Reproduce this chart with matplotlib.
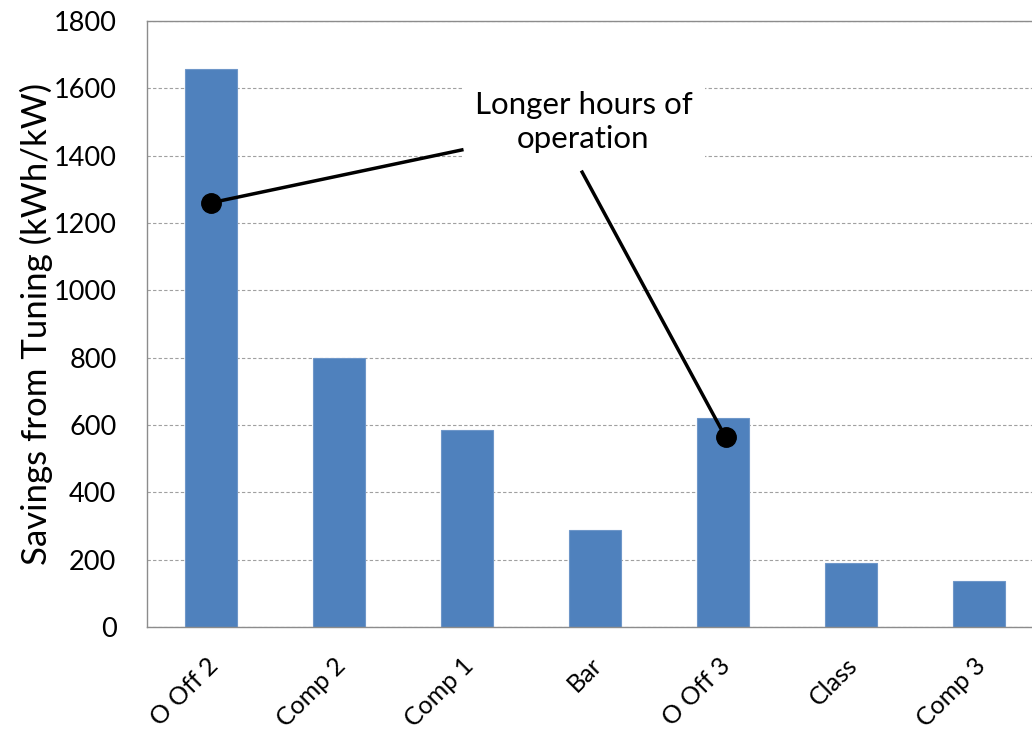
import matplotlib.pyplot as plt
from matplotlib.transforms import ScaledTranslation

plt.rcParams['font.family'] = ['Lato', 'DejaVu Sans']

categories = ['O Off 2', 'Comp 2', 'Comp 1', 'Bar', 'O Off 3', 'Class', 'Comp 3']
savings = [1658, 800, 585, 287, 622, 191, 136]

note_text = 'Longer hours of\noperation'
note_pos = (2.91, 1500)
note_starts = [(1.96, 1417), (2.9, 1351)]
note_dots = [(0.0, 1260), (4.02, 564)]

fig = plt.figure(figsize=(10.32, 7.36), dpi=100)
ax = fig.add_axes([0.1424, 0.1481, 0.8682, 0.8234])

x = range(len(categories))
ax.bar(x, savings, width=0.4, color='#4F81BD', edgecolor='#6F97C9', linewidth=0.8, zorder=2)

ax.set_xlim(-0.5, len(categories) - 0.5)
ax.set_ylim(0, 1800)
ax.set_yticks(range(0, 1801, 200))
ax.yaxis.grid(True, linestyle=(0, (3, 2)), color='#A0A0A0', linewidth=0.8, zorder=0)
ax.tick_params(axis='both', length=0, colors='black')
ax.tick_params(axis='y', pad=22, labelsize=19.5)
ax.set_xticks(list(x))
ax.set_xticklabels(categories, rotation=45, ha='right', va='top', rotation_mode='anchor')
ax.tick_params(axis='x', pad=19, labelsize=18)
shift = ScaledTranslation(-5 / 100, 0, fig.dpi_scale_trans)
for lbl in ax.get_xticklabels():
    lbl.set_transform(lbl.get_transform() + shift)

for s in ['left', 'bottom', 'top']:
    ax.spines[s].set_color('#8C8C8C')
    ax.spines[s].set_linewidth(1.0)
ax.spines['right'].set_visible(False)

ax.set_ylabel('Savings from Tuning (kWh/kW)', fontsize=25)
ax.yaxis.set_label_coords(-0.105, 0.5)

ax.text(note_pos[0], note_pos[1], note_text, fontsize=22.5, ha='center', va='center',
        linespacing=1.3, zorder=3,
        bbox=dict(facecolor='white', edgecolor='none', pad=9))

for (x0, y0), (x1, y1) in zip(note_starts, note_dots):
    ax.plot([x0, x1], [y0, y1], color='black', linewidth=2.5, zorder=4)
    ax.plot(x1, y1, 'o', color='black', markersize=14, zorder=5)

plt.savefig('out.png', dpi=100)
